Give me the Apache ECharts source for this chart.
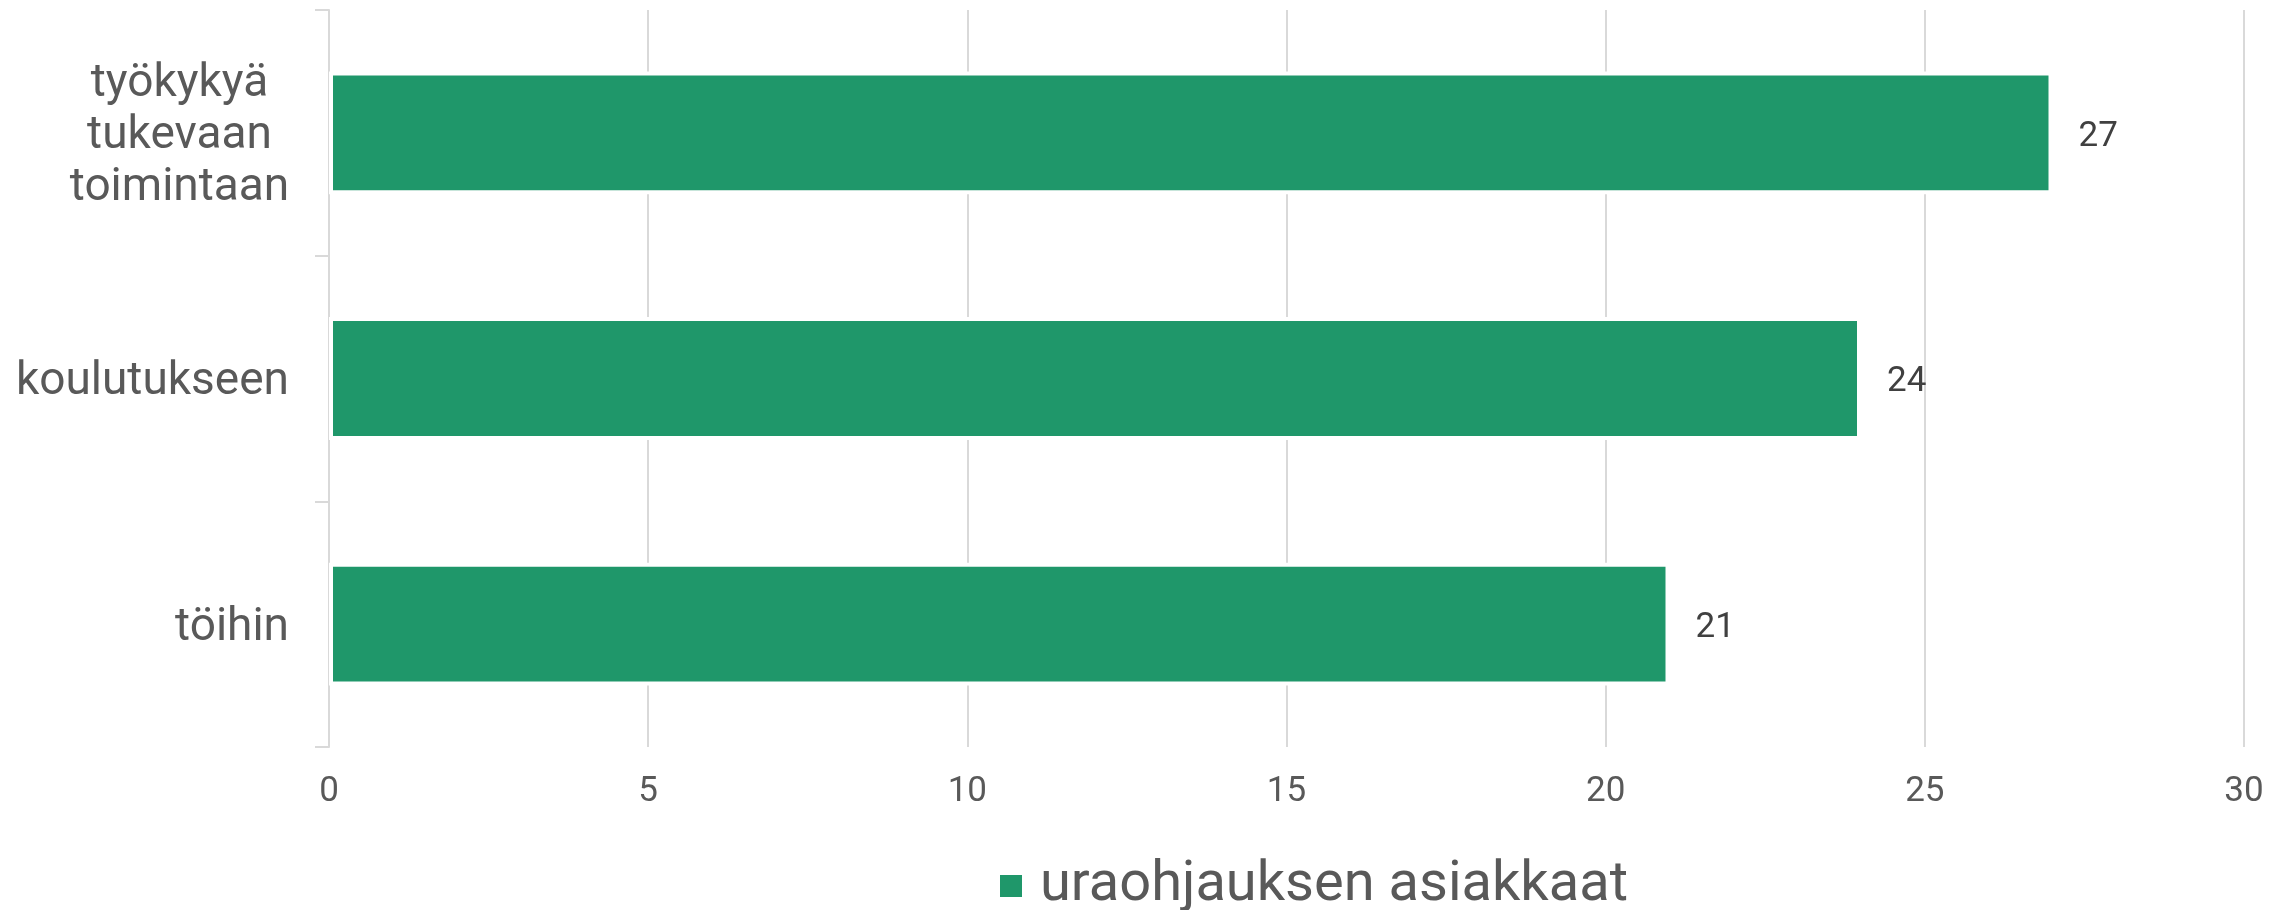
<!DOCTYPE html>
<html>
<head>
<meta charset="utf-8">
<script src="https://cdn.jsdelivr.net/npm/echarts@6/dist/echarts.min.js"></script>
<style>
  html, body { margin: 0; padding: 0; background: #fff; }
  #chartmain { width: 2292px; height: 910px; }
</style>
</head>
<body>
<div id="chartmain"></div>
<script>
// data, bottom category first (echarts draws category 0 at the bottom)
var categories = ['töihin', 'koulutukseen', 'työkykyä\ntukevaan\ntoimintaan'];
var values = [21, 24, 27];
var seriesName = 'uraohjauksen asiakkaat';
var xTicks = [0, 5, 10, 15, 20, 25, 30];

var fontName = 'Roboto, "Noto Sans", sans-serif';

var myChart = echarts.init(document.getElementById('chartmain'));

var option = {
    animation: false,
    textStyle: { fontFamily: fontName },
    grid: { left: 329, right: 48, top: 10, bottom: 163, containLabel: false },
    legend: {
        data: [seriesName],
        left: 998,
        top: 858,
        padding: 0,
        icon: 'rect',
        itemWidth: 24,
        itemHeight: 24,
        textStyle: { fontSize: 56, color: '#595959', fontFamily: fontName, padding: [0, 0, 0, 12] }
    },
    xAxis: {
        type: 'value',
        min: xTicks[0],
        max: xTicks[xTicks.length - 1],
        interval: 5,
        axisLine: { show: false },
        axisTick: { show: false },
        axisLabel: { fontSize: 35, color: '#595959', margin: 28 },
        splitLine: { show: true, lineStyle: { color: '#d9d9d9', width: 2 } }
    },
    yAxis: {
        type: 'category',
        data: categories,
        axisLine: { show: true, lineStyle: { color: '#d9d9d9', width: 2 } },
        axisTick: { show: true, length: 14, lineStyle: { color: '#d9d9d9', width: 2 } },
        axisLabel: {
            fontSize: 46,
            color: '#595959',
            margin: 40,
            lineHeight: 52,
            padding: [8, 0, 0, 0],
            formatter: function (v) {
                if (v.indexOf('\n') < 0) return v;
                return v.split('\n').map(function (s) { return '{m|' + s + '}'; }).join('\n');
            },
            rich: {
                m: { width: 219, align: 'center', fontSize: 46, lineHeight: 52, color: '#595959' }
            }
        }
    },
    series: [{
        name: seriesName,
        type: 'bar',
        data: values,
        barCategoryGap: '50%',
        itemStyle: { color: '#1f976a', borderColor: '#ffffff', borderWidth: 4 },
        label: {
            show: true,
            position: 'right',
            distance: 26,
            offset: [0, 4],
            fontSize: 35,
            color: '#404040'
        }
    }]
};

myChart.setOption(option);
</script>
</body>
</html>
